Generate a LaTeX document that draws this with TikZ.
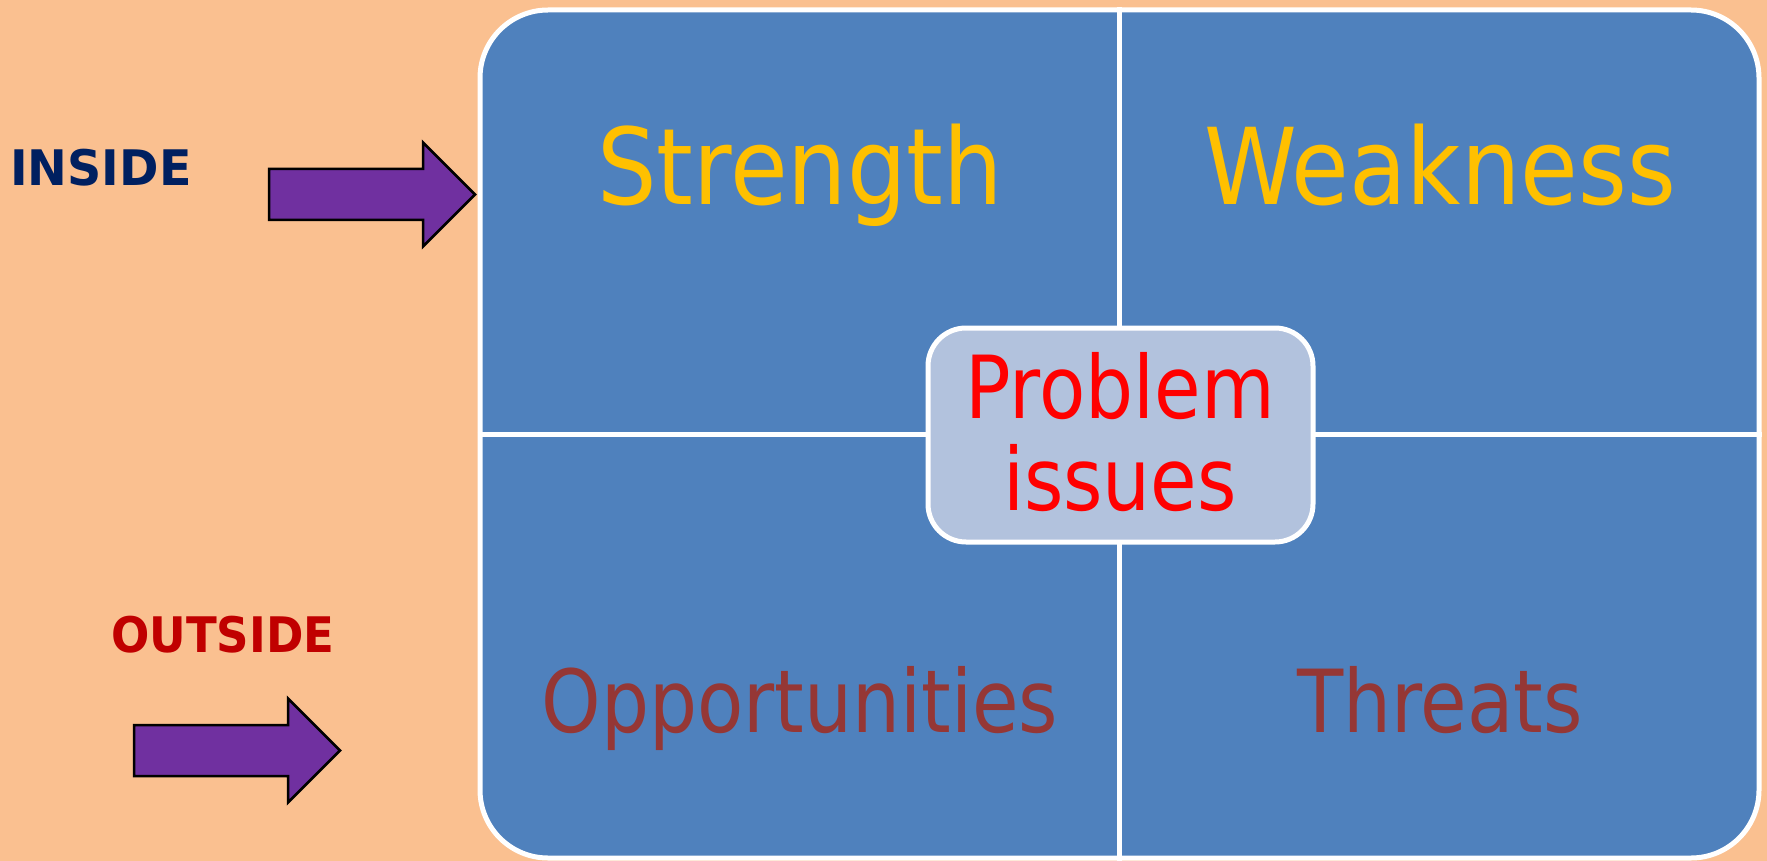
\documentclass[tikz,border=0pt]{standalone}
\usepackage{fontspec}
\setmainfont{DejaVu Sans}[FakeStretch=0.87]
\newfontfamily\bigfont{DejaVu Sans}[FakeStretch=0.885]
\newfontfamily\insidefont{DejaVu Sans}[FakeStretch=0.97]
\newfontfamily\outsidefont{DejaVu Sans}[FakeStretch=0.92]
\definecolor{peach}{HTML}{FAC090}
\definecolor{swotblue}{HTML}{4F81BD}
\definecolor{coreblue}{HTML}{B2C2DD}
\definecolor{gold}{HTML}{FFC000}
\definecolor{brick}{HTML}{953735}
\definecolor{navy}{HTML}{002060}
\definecolor{darkred}{HTML}{C00000}
\definecolor{arrowpurple}{HTML}{7030A0}
\begin{document}
\begin{tikzpicture}[x=1pt,y=-1pt,
  swotbox/.style={draw=white, line width=5pt, fill=swotblue, rounded corners=68pt, inner sep=0pt},
  divider/.style={draw=white, line width=5pt},
  corebox/.style={draw=white, line width=5pt, fill=coreblue, rounded corners=38pt, inner sep=0pt},
  bigtext/.style={inner sep=0pt, anchor=base, text=gold, font=\bigfont\fontsize{106}{110}\selectfont},
  lowtext/.style={inner sep=0pt, anchor=base, text=brick, font=\fontsize{87}{92}\selectfont},
  coretext/.style={inner sep=0pt, anchor=base, text=red, font=\fontsize{87}{92}\selectfont},
  sidelabel/.style={inner sep=0pt, anchor=base west, font=\bfseries\fontsize{49}{52}\selectfont},
  arrowshape/.style={draw=black, line width=2.5pt, fill=arrowpurple, line join=miter}
]
\fill[peach] (0,0) rectangle (1767,861);
\useasboundingbox (0,0) rectangle (1767,861);

% main SWOT box
\node[swotbox, minimum width=1279pt, minimum height=848pt] (swot) at (1119.5,434) {};
\draw[divider] (swot.north) -- (swot.south);
\draw[divider] (swot.west) -- (swot.east);

% quadrant labels
\node[bigtext] (strength) at (800,205) {Strength};
\node[bigtext] (weakness) at (1440,205) {Weakness};
\node[lowtext] (opps) at (800,732) {Opportunities};
\node[lowtext] (threats) at (1440,732) {Threats};

% centre box
\node[corebox, minimum width=385pt, minimum height=214pt] (core) at (1120.5,435) {};
\node[coretext] (problem) at (1120,418) {Problem};
\node[coretext] (issues) at (1120,510) {issues};

% side labels
\node[sidelabel, text=navy, font=\insidefont\bfseries\fontsize{49}{52}\selectfont] (inside) at (10,186) {INSIDE};
\node[sidelabel, text=darkred, font=\outsidefont\bfseries\fontsize{49}{52}\selectfont] (outside) at (111,652) {OUTSIDE};

% arrows
\coordinate (a1) at (269,194.5);
\draw[arrowshape] (a1) ++(0,-25.5) -- ++(154,0) -- ++(0,-26.5) -- ++(52,52) -- ++(-52,52) -- ++(0,-26.5) -- ++(-154,0) -- cycle;
\coordinate (a2) at (134,750.5);
\draw[arrowshape] (a2) ++(0,-25.5) -- ++(154,0) -- ++(0,-26.5) -- ++(52,52) -- ++(-52,52) -- ++(0,-26.5) -- ++(-154,0) -- cycle;
\end{tikzpicture}
\end{document}
